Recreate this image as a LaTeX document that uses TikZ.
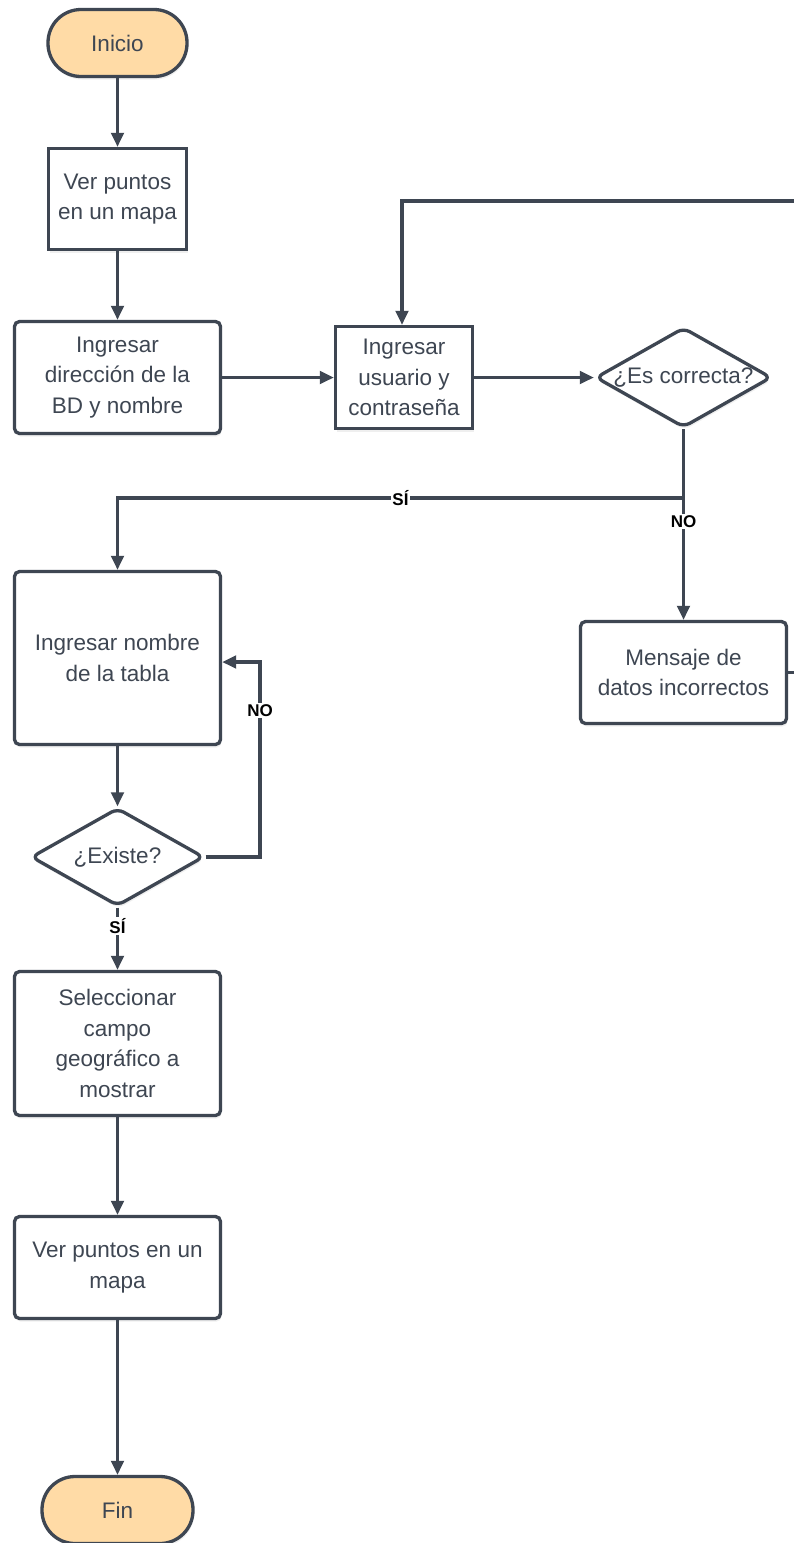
\documentclass[tikz,border=0pt]{standalone}
\usepackage{fontspec}
\setmainfont{Liberation Sans}
\usetikzlibrary{shapes.geometric,arrows.meta,shadows}
\definecolor{ln}{HTML}{3E4652}
\definecolor{term}{HTML}{FFDBA6}
\begin{document}
\begin{tikzpicture}[x=1pt,y=-1pt,
  base/.style={draw=ln, line width=3.3pt, text=ln, align=center, inner sep=0pt,
    font=\fontsize{22.5}{30.5}\selectfont, fill=white,
    drop shadow={shadow xshift=1pt, shadow yshift=-3pt, opacity=0.12}},
  sq/.style={base, rectangle},
  rnd/.style={base, rectangle, rounded corners=5pt},
  termbox/.style={base, rectangle, rounded corners=33pt, fill=term},
  dia/.style={base, diamond, rounded corners=7pt},
  arr/.style={draw=ln, line width=3.3pt, -{Triangle[length=14pt,width=12.5pt]}},
  con/.style={draw=ln, line width=3.3pt},
  lbl/.style={fill=white, text=black, inner sep=1.5pt, font=\bfseries\fontsize{17}{17}\selectfont}
]
\clip (0,0) rectangle (794,1543);
\fill[white] (0,0) rectangle (794,1543);

\node[termbox, minimum width=139, minimum height=67] (inicio) at (117.5,43) {Inicio};
\node[sq, minimum width=138, minimum height=101] (ver1) at (117.5,199) {Ver puntos\\en un mapa};
\node[rnd, minimum width=206, minimum height=112] (dir) at (117.5,377.5) {Ingresar\\dirección de la\\BD y nombre};
\node[sq, minimum width=137, minimum height=102] (usr) at (404,377.5) {Ingresar\\usuario y\\contraseña};
\node[dia, minimum width=176, minimum height=100, label={center:\textcolor{ln}{\fontsize{22.5}{30.5}\selectfont¿Es correcta?}}] (esc) at (683.5,377.5) {};
\node[rnd, minimum width=206, minimum height=102] (msg) at (683.5,672.5) {Mensaje de\\datos incorrectos};
\node[rnd, minimum width=206, minimum height=173] (tabla) at (117.5,658) {Ingresar nombre\\de la tabla};
\node[dia, minimum width=173, minimum height=98, label={center:\textcolor{ln}{\fontsize{22.5}{30.5}\selectfont¿Existe?}}] (exi) at (117.5,857) {};
\node[rnd, minimum width=206, minimum height=144] (sel) at (117.5,1043.5) {Seleccionar\\campo\\geográfico a\\mostrar};
\node[rnd, minimum width=206, minimum height=102] (ver2) at (117.5,1267.5) {Ver puntos en un\\mapa};
\node[termbox, minimum width=151, minimum height=67] (fin) at (117.5,1510) {Fin};

\coordinate (j1) at (683.5,498);
\coordinate (rt) at (815,201);
\coordinate (k) at (260,662);

\draw[arr] (inicio.south) -- (ver1.north);
\draw[arr] (ver1.south) -- (dir.north);
\draw[arr] (dir.east) -- (usr.west);
\draw[arr] (usr.east) -- (esc.west);
\draw[con] (msg.east) -- (msg.east -| rt);
\draw[arr] (rt) -| ([xshift=-2pt]usr.north);
\draw[arr] (esc.south) -- (j1) -- node[lbl]{SÍ} (tabla.north |- j1) -- (tabla.north);
\draw[arr] (j1) -- node[lbl, pos=0.19]{NO} (msg.north);
\draw[arr] (tabla.south) -- (exi.north);
\draw[arr] (exi.east) -- (exi.east -| k) -- node[lbl, pos=0.75]{NO} (k) -- (tabla.east |- k);
\draw[arr] (exi.south) -- node[lbl, pos=0.3]{SÍ} (sel.north);
\draw[arr] (sel.south) -- (ver2.north);
\draw[arr] (ver2.south) -- (fin.north);
\end{tikzpicture}
\end{document}
